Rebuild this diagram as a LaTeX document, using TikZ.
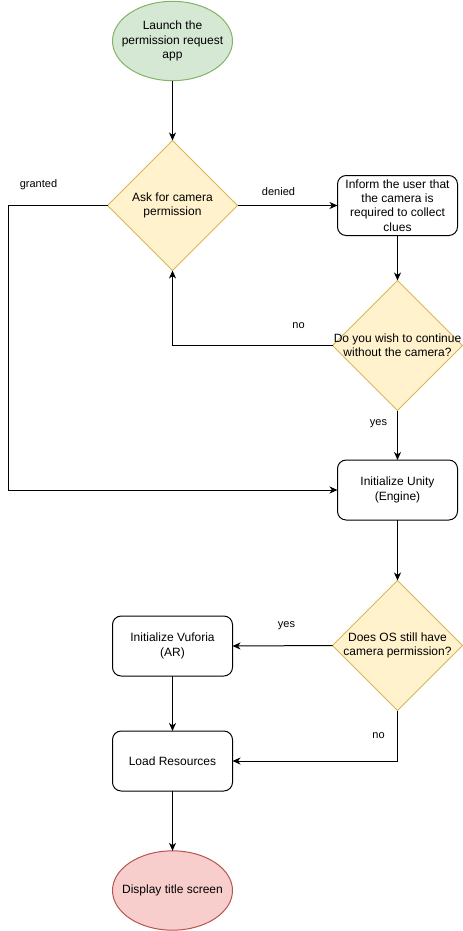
\documentclass[tikz,border=0pt]{standalone}
\usepackage{fontspec}
\setmainfont{Liberation Sans}
\usetikzlibrary{shapes.geometric,arrows.meta}
\definecolor{gfill}{HTML}{D5E8D4}\definecolor{gline}{HTML}{82B366}
\definecolor{yfill}{HTML}{FFF2CC}\definecolor{yline}{HTML}{D6B656}
\definecolor{rfill}{HTML}{F8CECC}\definecolor{rline}{HTML}{B85450}
\tikzset{
  base/.style={line width=0.75pt, inner sep=0pt, outer sep=0pt},
  startnode/.style={base, ellipse, draw=gline, fill=gfill, minimum width=90pt, minimum height=59.5pt},
  endnode/.style={base, ellipse, draw=rline, fill=rfill, minimum width=90pt, minimum height=59.5pt},
  procbox/.style={base, rectangle, rounded corners=6.5pt, draw=black, fill=white, minimum width=90pt, minimum height=45pt},
  decide/.style={base, diamond, draw=yline, fill=yfill, minimum width=97.5pt, minimum height=97.5pt},
  txt/.style={align=center, inner sep=0pt, font=\fontsize{9}{10.8}\selectfont},
  lbl/.style={inner sep=0pt, font=\fontsize{8.25}{9.9}\selectfont},
  conn/.style={line width=0.75pt, -{Stealth[length=6pt,width=5.25pt,inset=1.8pt]}},
}
\begin{document}
\begin{tikzpicture}[x=0.75pt,y=-0.75pt]
\useasboundingbox (0,0) rectangle (463,931);
% shapes
\node[startnode] (e1) at (172.5,41) {};
\node[txt] (e1t) at (e1) {Launch the\\permission request\\app};
\node[decide] (d1) at (172.5,205.5) {};
\node[txt] (d1t) at (d1) {Ask for camera\\permission};
\node[procbox] (inf) at (397.5,205.5) {};
\node[txt] (inft) at (inf) {Inform the user that\\the camera is\\required to collect\\clues};
\node[decide] (d2) at (397.5,345.5) {};
\node[txt] (d2t) at (d2) {Do you wish to continue\\without the camera?};
\node[procbox] (unity) at (397.5,490) {};
\node[txt] (unityt) at (unity) {Initialize Unity\\(Engine)};
\node[decide] (d3) at (397.5,645.5) {};
\node[txt] (d3t) at (d3) {Does OS still have\\camera permission?};
\node[procbox] (vuf) at (172.5,646) {};
\node[txt] (vuft) at (vuf) {Initialize Vuforia\\(AR)};
\node[procbox] (load) at (172.5,761) {};
\node[txt] (loadt) at (load) {Load Resources};
\node[endnode] (e2) at (172.5,890.5) {};
\node[txt] (e2t) at (e2) {Display title screen};
% helper coordinate
\coordinate (g) at (8,205.5);
% connectors
\draw[conn] (e1.south) -- (d1.north);
\draw[conn] (d1.west) -- (g) |- (unity.west);
\draw[conn] (d1.east) -- (inf.west);
\draw[conn] (inf.south) -- (d2.north);
\draw[conn] (d2.west) -| (d1.south);
\draw[conn] (d2.south) -- (unity.north);
\draw[conn] (unity.south) -- (d3.north);
\draw[conn] (d3.west) -- (vuf.east);
\draw[conn] (d3.south) |- (load.east);
\draw[conn] (vuf.south) -- (load.north);
\draw[conn] (load.south) -- (e2.north);
% edge labels
\node[lbl] (lg) at (38.5,185) {granted};
\node[lbl] (ld) at (278.5,191.5) {denied};
\node[lbl] (ln1) at (298.5,325.5) {no};
\node[lbl] (ly1) at (378.5,424) {yes};
\node[lbl] (ly2) at (286.5,625.5) {yes};
\node[lbl] (ln2) at (378.5,736) {no};
\end{tikzpicture}
\end{document}
